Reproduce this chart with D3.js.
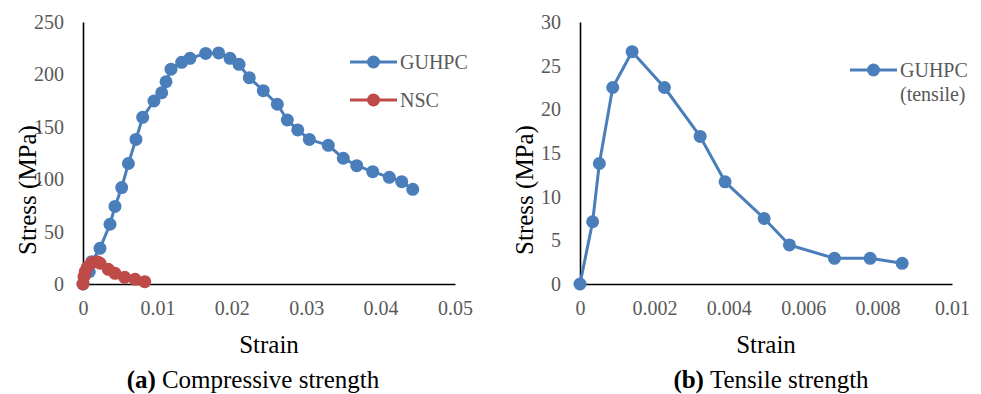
<!DOCTYPE html>
<html>
<head>
<meta charset="utf-8">
<script src="https://cdn.jsdelivr.net/npm/d3@7"></script>
<style>
  html, body { margin: 0; padding: 0; background: #fff; }
  svg { display: block; }
  svg text { font-family: "Liberation Serif", "Times New Roman", serif; }
</style>
</head>
<body>
<svg id="chart" width="981" height="394"></svg>
<script>
// ---- Data ----
const guhpcStrain = [0, 0.00085, 0.00117, 0.00228, 0.00363, 0.0043, 0.0052, 0.0061, 0.00712, 0.00802, 0.00954, 0.01058, 0.01116, 0.01183, 0.01326, 0.01438, 0.01649, 0.01823, 0.01976, 0.02097, 0.02235, 0.02423, 0.02612, 0.02746, 0.02886, 0.03042, 0.03297, 0.03499, 0.03679, 0.03894, 0.04117, 0.04284, 0.04432];
const guhpcStress = [0, 11.7, 21.3, 34, 57, 74, 92, 115, 138, 159, 174.6, 182.5, 193, 205, 211.5, 215.3, 220, 220.5, 215.3, 209.6, 196.9, 184.5, 171.5, 156.5, 147, 138, 132.3, 120, 112.9, 107.2, 101.8, 97.6, 90.3];

const nscStrain = [0, 0.00013, 0.0003, 0.00058, 0.00117, 0.0019, 0.0023, 0.0034, 0.0043, 0.0056, 0.007, 0.0083];
const nscStress = [0, 7, 11.8, 16, 20.3, 21.3, 19.8, 14, 10.2, 6.4, 4.5, 2.2];

const tensileStrain = [0, 0.00034, 0.00052, 0.00088, 0.0014, 0.00227, 0.00323, 0.0039, 0.00495, 0.00563, 0.00684, 0.0078, 0.00866];
const tensileStress = [0, 7.13, 13.8, 22.5, 26.6, 22.5, 16.9, 11.7, 7.5, 4.47, 2.94, 2.94, 2.37];

const compXTicks = [0, 0.01, 0.02, 0.03, 0.04, 0.05];
const compXLabels = ["0", "0.01", "0.02", "0.03", "0.04", "0.05"];
const compYTicks = [0, 50, 100, 150, 200, 250];
const compYLabels = ["0", "50", "100", "150", "200", "250"];

const tensXTicks = [0, 0.002, 0.004, 0.006, 0.008, 0.01];
const tensXLabels = ["0", "0.002", "0.004", "0.006", "0.008", "0.01"];
const tensYTicks = [0, 5, 10, 15, 20, 25, 30];
const tensYLabels = ["0", "5", "10", "15", "20", "25", "30"];

const seriesNames = ["GUHPC", "NSC"];
const tensileLegend = ["GUHPC", "(tensile)"];

// ---- Styles ----
const FONT = "'Liberation Serif', 'Times New Roman', serif";
const BLUE = "#4A7EBB";
const RED = "#BE4B48";
const TICK_COLOR = "#595959";
const TICK_FONT = 20;
const TITLE_FONT = 25;
const R = 6.5;
const LW = 3;

const svg = d3.select("#chart");

function zip(xs, ys) { return xs.map((x, i) => ({ x, y: ys[i] })); }

function drawPanel(opts) {
  const x = d3.scaleLinear().domain(opts.xDomain).range(opts.xRange);
  const y = d3.scaleLinear().domain(opts.yDomain).range(opts.yRange);
  const g = svg.append("g");

  // y axis
  const yAxis = d3.axisLeft(y).tickValues(opts.yTicks)
    .tickFormat((d, i) => opts.yLabels[i]).tickSize(0).tickPadding(19);
  const ya = g.append("g").attr("transform", `translate(${opts.xRange[0]},0)`).call(yAxis)
    .attr("font-family", FONT).attr("font-size", TICK_FONT);
  ya.select(".domain").attr("stroke", "#000").attr("stroke-width", 1.6);
  ya.selectAll("text").attr("fill", TICK_COLOR);

  // x axis
  const xAxis = d3.axisBottom(x).tickValues(opts.xTicks)
    .tickFormat((d, i) => opts.xLabels[i]).tickSize(0).tickPadding(16.8);
  const xa = g.append("g").attr("transform", `translate(0,${opts.yRange[0]})`).call(xAxis)
    .attr("font-family", FONT).attr("font-size", TICK_FONT);
  xa.select(".domain").attr("stroke", "#000").attr("stroke-width", 1.6);
  xa.selectAll("text").attr("fill", TICK_COLOR);

  // series
  const line = d3.line().x(d => x(d.x)).y(d => y(d.y));
  opts.series.forEach(s => {
    const data = zip(s.xs, s.ys);
    g.append("path").datum(data).attr("d", line).attr("fill", "none")
      .attr("stroke", s.color).attr("stroke-width", LW).attr("stroke-linejoin", "round");
    g.selectAll(null).data(data).enter().append("circle")
      .attr("cx", d => x(d.x)).attr("cy", d => y(d.y)).attr("r", R).attr("fill", s.color);
  });

  // axis titles
  const cx = (opts.xRange[0] + opts.xRange[1]) / 2;
  g.append("text").attr("x", cx).attr("y", 353).attr("text-anchor", "middle")
    .attr("font-family", FONT).attr("font-size", TITLE_FONT).attr("fill", "#000").text("Strain");
  g.append("text").attr("transform", `translate(${opts.xRange[0] - 47},190) rotate(-90)`)
    .attr("text-anchor", "middle").attr("font-family", FONT).attr("font-size", TITLE_FONT)
    .attr("fill", "#000").text("Stress (MPa)");

  // caption
  const cap = g.append("text").attr("x", opts.capX).attr("y", 388).attr("text-anchor", "middle")
    .attr("font-family", FONT).attr("font-size", TITLE_FONT).attr("fill", "#000");
  cap.append("tspan").attr("font-weight", "bold").text(opts.capBold);
  cap.append("tspan").attr("dx", 6).text(opts.capText);

  // legend
  opts.legend.forEach(l => {
    g.append("line").attr("x1", l.x).attr("x2", l.x + 47).attr("y1", l.y).attr("y2", l.y)
      .attr("stroke", l.color).attr("stroke-width", LW);
    g.append("circle").attr("cx", l.x + 23.5).attr("cy", l.y).attr("r", R).attr("fill", l.color);
    const t = g.append("text").attr("x", l.x + 50).attr("y", l.y)
      .attr("font-family", FONT).attr("font-size", TICK_FONT).attr("fill", TICK_COLOR);
    l.lines.forEach((s, i) => {
      t.append("tspan").attr("x", l.x + 50).attr("dy", i === 0 ? "0.35em" : "1.2em").text(s);
    });
  });
}

drawPanel({
  xDomain: [0, 0.05], xRange: [83, 455],
  yDomain: [0, 250], yRange: [284, 22],
  xTicks: compXTicks, xLabels: compXLabels,
  yTicks: compYTicks, yLabels: compYLabels,
  series: [
    { xs: guhpcStrain, ys: guhpcStress, color: BLUE },
    { xs: nscStrain, ys: nscStress, color: RED }
  ],
  capX: 253, capBold: "(a)", capText: "Compressive strength",
  legend: [
    { x: 350, y: 62, color: BLUE, lines: [seriesNames[0]] },
    { x: 350, y: 100, color: RED, lines: [seriesNames[1]] }
  ]
});

drawPanel({
  xDomain: [0, 0.01], xRange: [580, 952],
  yDomain: [0, 30], yRange: [284, 22],
  xTicks: tensXTicks, xLabels: tensXLabels,
  yTicks: tensYTicks, yLabels: tensYLabels,
  series: [
    { xs: tensileStrain, ys: tensileStress, color: BLUE }
  ],
  capX: 771, capBold: "(b)", capText: "Tensile strength",
  legend: [
    { x: 850, y: 70, color: BLUE, lines: tensileLegend }
  ]
});
</script>
</body>
</html>
